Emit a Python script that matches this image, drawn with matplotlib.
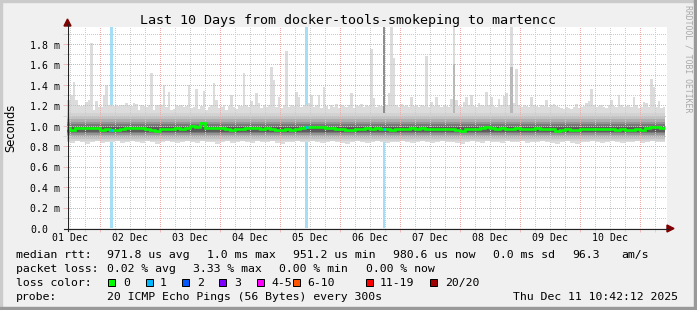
import numpy as np
import matplotlib.pyplot as plt
import matplotlib.transforms as mtransforms
from matplotlib.patches import Polygon, Rectangle
from matplotlib.lines import Line2D

W, H = 697, 310
MONO = 'DejaVu Sans Mono'

# time axis in hours counted from 01 Dec 00:00, graph spans 01 Dec 10:42 .. 11 Dec 10:42
x_start, x_end = 10.8, 250.8
first_hour = 10

# highest ping per 1h bin (ms)
rtt_max = [
    1.25, 1.25, 1.30, 1.43, 1.25, 1.20, 1.19, 1.20, 1.23, 1.25, 1.81, 1.15,
    1.24, 1.18, 1.18, 1.30, 1.40, 1.20, 1.20, 1.19, 1.20, 1.19, 1.20, 1.20,
    1.22, 1.20, 1.19, 1.22, 1.21, 1.15, 1.20, 1.19, 1.18, 1.20, 1.52, 1.15,
    1.20, 1.20, 1.20, 1.40, 1.18, 1.33, 1.15, 1.16, 1.20, 1.19, 1.20, 1.18,
    1.19, 1.40, 1.17, 1.18, 1.36, 1.16, 1.19, 1.34, 1.15, 1.18, 1.20, 1.42,
    1.25, 1.17, 1.18, 1.20, 1.15, 1.19, 1.30, 1.18, 1.16, 1.20, 1.19, 1.52,
    1.20, 1.18, 1.24, 1.20, 1.32, 1.22, 1.17, 1.20, 1.18, 1.20, 1.58, 1.45,
    1.18, 1.28, 1.17, 1.20, 1.73, 1.18, 1.20, 1.19, 1.33, 1.28, 1.18, 1.20,
    1.20, 1.22, 1.30, 1.18, 1.20, 1.30, 1.17, 1.38, 1.19, 1.16, 1.20, 1.18,
    1.21, 1.17, 1.20, 1.19, 1.18, 1.20, 1.32, 1.17, 1.20, 1.19, 1.21, 1.18,
    1.20, 1.19, 1.75, 1.27, 1.18, 1.20, 1.19, 1.97, 1.20, 1.32, 1.97, 1.66,
    1.20, 1.18, 1.21, 1.19, 1.20, 1.18, 1.28, 1.19, 1.20, 1.18, 1.20, 1.19,
    1.68, 1.18, 1.23, 1.19, 1.28, 1.20, 1.18, 1.20, 1.19, 1.18, 1.26, 1.97,
    1.25, 1.19, 1.18, 1.23, 1.28, 1.20, 1.30, 1.19, 1.18, 1.22, 1.20, 1.19,
    1.33, 1.20, 1.28, 1.19, 1.18, 1.26, 1.20, 1.29, 1.32, 1.20, 1.97, 1.22,
    1.56, 1.20, 1.18, 1.20, 1.19, 1.18, 1.28, 1.20, 1.19, 1.18, 1.20, 1.19,
    1.25, 1.18, 1.20, 1.21, 1.19, 1.18, 1.17, 1.16, 1.18, 1.17, 1.16, 1.18,
    1.21, 1.17, 1.18, 1.19, 1.22, 1.24, 1.36, 1.20, 1.18, 1.19, 1.20, 1.18,
    1.17, 1.20, 1.25, 1.19, 1.18, 1.30, 1.20, 1.18, 1.19, 1.20, 1.18, 1.28,
    1.20, 1.17, 1.18, 1.23, 1.22, 1.18, 1.46, 1.38, 1.18, 1.24, 1.17, 1.18,
]

# median rtt per 2h bin (ms)
rtt_median = [
    0.975, 0.960, 0.975, 0.975, 0.975, 0.980, 0.980, 0.960, 0.965, 0.955, 0.960, 0.965,
    0.975, 0.980, 0.975, 0.975, 0.970, 0.955, 0.950, 0.965, 0.965, 0.970, 0.975, 0.970,
    0.975, 1.000, 0.990, 1.030, 0.980, 0.975, 0.975, 0.975, 0.970, 0.960, 0.965, 0.970,
    0.980, 0.975, 0.975, 0.970, 0.975, 0.970, 0.955, 0.955, 0.965, 0.960, 0.965, 0.975,
    0.985, 0.990, 0.990, 0.985, 0.980, 0.975, 0.970, 0.970, 0.960, 0.960, 0.970, 0.965,
    0.975, 0.970, 0.975, 0.965, 0.965, 0.960, 0.965, 0.970, 0.970, 0.975, 0.970, 0.975,
    0.970, 0.965, 0.970, 0.965, 0.970, 0.965, 0.960, 0.950, 0.965, 0.965, 0.970, 0.975,
    0.990, 0.975, 0.970, 0.975, 0.970, 0.970, 0.975, 0.970, 0.965, 0.970, 0.975, 0.970,
    0.970, 0.965, 0.950, 0.960, 0.965, 0.955, 0.955, 0.965, 0.970, 0.970, 0.965, 0.970,
    0.970, 0.965, 0.960, 0.965, 0.960, 0.960, 0.965, 0.955, 0.975, 0.985, 0.985, 0.980,
]

# lowest ping per 2h bin (ms)
rtt_min = [
    0.84, 0.83, 0.85, 0.84, 0.82, 0.84, 0.85, 0.83, 0.84, 0.84, 0.85, 0.83,
    0.84, 0.85, 0.84, 0.83, 0.85, 0.84, 0.82, 0.84, 0.85, 0.84, 0.83, 0.84,
    0.85, 0.84, 0.83, 0.85, 0.84, 0.84, 0.82, 0.84, 0.85, 0.83, 0.84, 0.85,
    0.84, 0.83, 0.85, 0.84, 0.84, 0.85, 0.83, 0.82, 0.84, 0.84, 0.85, 0.84,
    0.84, 0.85, 0.84, 0.83, 0.84, 0.85, 0.84, 0.83, 0.82, 0.84, 0.85, 0.84,
    0.83, 0.84, 0.85, 0.84, 0.83, 0.84, 0.84, 0.85, 0.84, 0.83, 0.84, 0.85,
    0.84, 0.83, 0.84, 0.85, 0.84, 0.84, 0.83, 0.82, 0.84, 0.85, 0.84, 0.83,
    0.85, 0.84, 0.84, 0.83, 0.85, 0.84, 0.84, 0.85, 0.83, 0.84, 0.84, 0.85,
    0.84, 0.83, 0.82, 0.84, 0.85, 0.83, 0.82, 0.84, 0.84, 0.85, 0.84, 0.83,
    0.84, 0.85, 0.84, 0.83, 0.84, 0.84, 0.85, 0.83, 0.84, 0.85, 0.84, 0.84,
]

# inner smoke levels (roughly constant over the period)
band_lo = [0.855, 0.875, 0.895, 0.91, 0.925, 0.94]
band_hi = [1.13, 1.10, 1.07, 1.04, 1.015, 0.99]
band_colors = ['#d2d2d2', '#c2c2c2', '#aeaeae', '#959595', '#787878', '#5c5c5c']

# bins where several pings went high
dark_hours, dark_tops = [137], [1.97]
mid_hours, mid_tops = [165, 188], [1.60, 1.58]

# bins with 1/20 packet loss
loss_hours = [28, 106, 137]

day_labels = ['01 Dec', '02 Dec', '03 Dec', '04 Dec', '05 Dec',
              '06 Dec', '07 Dec', '08 Dec', '09 Dec', '10 Dec']
y_ticks = [0.0, 0.2, 0.4, 0.6, 0.8, 1.0, 1.2, 1.4, 1.6, 1.8]
y_labels = ['0.0', '0.2 m', '0.4 m', '0.6 m', '0.8 m', '1.0 m',
            '1.2 m', '1.4 m', '1.6 m', '1.8 m']

loss_names = ['0', '1', '2', '3', '4-5', '6-10', '11-19', '20/20']
loss_colors = ['#00ff00', '#00b8ff', '#0059ff', '#7e00ff',
               '#ff00ff', '#ff5500', '#ff0000', '#a10000']


def fx(px):
    return px / W


def fy(py):
    return 1 - py / H


fig = plt.figure(figsize=(W / 100, H / 100), dpi=100)
fig.patch.set_facecolor('#f0f0f0')

ax = fig.add_axes([fx(67), fy(228), 600 / W, 201 / H])
ax.set_facecolor('white')
ax.set_xlim(x_start, x_end)
ax.set_ylim(0, 201 / 102.2)

edges_1h = first_hour + np.arange(len(rtt_max) + 1)
edges_2h = first_hour + 2 * np.arange(len(rtt_median) + 1)

# loss markers sit behind the smoke
for h in loss_hours:
    ax.axvspan(h, h + 1, color='#a6def6', lw=0, zorder=0.5)

# outer smoke
ax.stairs(rtt_max, edges_1h, baseline=np.repeat(rtt_min, 2), fill=True,
          color='#dcdcdc', lw=0, zorder=1)
for h, top in zip(mid_hours, mid_tops):
    ax.fill_between([h, h + 1], 1.1, top, color='#b8b8b8', lw=0, zorder=1.1)
for h, top in zip(dark_hours, dark_tops):
    ax.fill_between([h, h + 1], 1.1, top, color='#8e8e8e', lw=0, zorder=1.1)
for lo, hi, c in zip(band_lo, band_hi, band_colors):
    ax.fill_between([edges_1h[0], edges_1h[-1]], lo, hi, color=c, lw=0, zorder=1.2)

# median line, blue where a ping was lost
ax.stairs(rtt_median, edges_2h, baseline=None, color='#00ff00', lw=1.9, zorder=3)
for h in loss_hours:
    m = rtt_median[(h - first_hour) // 2]
    ax.plot([h, h + 1], [m, m], color='#00b8ff', lw=1.9, solid_capstyle='butt', zorder=3.1)

# grid (dotted, drawn over the smoke like rrdtool does)
ax.set_xticks(np.arange(24, 250, 24))
ax.set_xticks([h for h in range(12, 251, 6) if h % 24], minor=True)
ax.set_yticks(np.arange(0.2, 1.81, 0.2))
ax.set_yticks(np.arange(0.1, 1.91, 0.2), minor=True)
ax.set_axisbelow(False)
ax.grid(which='major', color='#efaaaa', lw=0.72, linestyle=(0, (1, 2)), antialiased=False)
ax.grid(which='minor', color='#cccccc', lw=0.72, linestyle=(0, (1, 2)), antialiased=False)
ax.tick_params(which='major', length=3, width=0.72, color='#f2bcbc',
               labelleft=False, labelbottom=False)
ax.tick_params(which='minor', length=3, width=0.72, color='#d8d8d8')
for s in ax.spines.values():
    s.set_visible(False)

# tick labels
xt = mtransforms.blended_transform_factory(ax.transData, fig.transFigure)
for i, lab in enumerate(day_labels):
    ax.text(12 + 24 * i, fy(241), lab, transform=xt, ha='center', va='baseline',
            family=MONO, fontsize=7.1)
yt = mtransforms.blended_transform_factory(fig.transFigure, ax.transData) + \
    mtransforms.ScaledTranslation(0, -3.4 / 72, fig.dpi_scale_trans)
for v, lab in zip(y_ticks, y_labels):
    ax.text(fx(30), v, lab, transform=yt, ha='left', va='baseline',
            family=MONO, fontsize=7.1)

# axes with arrows
fig.add_artist(Line2D([fx(67.5), fx(67.5)], [fy(231), fy(24)], color='#222222', lw=0.8))
fig.add_artist(Line2D([fx(64), fx(668)], [fy(228.5), fy(228.5)], color='#222222', lw=0.8))
fig.add_artist(Polygon([(fx(67.5), fy(19)), (fx(64), fy(26)), (fx(71), fy(26))],
                       closed=True, color='#7f0000', transform=fig.transFigure))
fig.add_artist(Polygon([(fx(674), fy(228.5)), (fx(667), fy(225)), (fx(667), fy(232))],
                       closed=True, color='#7f0000', transform=fig.transFigure))

# titles
fig.text(fx(348), fy(24), 'Last 10 Days from docker-tools-smokeping to martencc',
         ha='center', va='baseline', family=MONO, fontsize=9.6)
fig.text(fx(11), fy(128), 'Seconds', rotation=90, ha='center', va='center',
         family='DejaVu Sans', fontsize=8.3)
fig.text(fx(688), fy(59), 'RRDTOOL / TOBI OETIKER', rotation=270, ha='center',
         va='center', family=MONO, fontsize=5.9, color='#a8a8a8')

# legend block
rows = [
    (258, [('median rtt:', 16), ('971.8 us avg', 107), ('1.0 ms max', 207),
           ('951.2 us min', 293), ('980.6 us now', 393), ('0.0 ms sd', 493),
           ('96.3', 572), ('am/s', 621)]),
    (272, [('packet loss:', 16), ('0.02 % avg', 107), ('3.33 % max', 193),
           ('0.00 % min', 279), ('0.00 % now', 366)]),
    (286, [('loss color:', 16)]),
    (300, [('probe:', 16), ('20 ICMP Echo Pings (56 Bytes) every 300s', 107),
           ('Thu Dec 11 10:42:12 2025', 513)]),
]
for base, items in rows:
    for txt, px in items:
        fig.text(fx(px), fy(base), txt, ha='left', va='baseline', family=MONO, fontsize=8.25)

box_x = [108, 146, 182, 219, 257, 293, 366, 430]
lab_x = [123, 160, 197, 234, 271, 307, 380, 445]
for name, c, bx, lx in zip(loss_names, loss_colors, box_x, lab_x):
    fig.add_artist(Rectangle((fx(bx), fy(285.5)), 7 / W, 7 / H, facecolor=c,
                             edgecolor='black', lw=0.72, transform=fig.transFigure))
    fig.text(fx(lx), fy(286), name, ha='left', va='baseline', family=MONO, fontsize=8.25)

# frame shading
fig.add_artist(Rectangle((0, 0), fx(2), 1, color='#cbcbcb', transform=fig.transFigure))
fig.add_artist(Rectangle((0, fy(2)), 1, 2 / H, color='#cbcbcb', transform=fig.transFigure))
fig.add_artist(Rectangle((fx(694), 0), 3 / W, 1, color='#999999', transform=fig.transFigure))
fig.add_artist(Rectangle((0, 0), 1, 3 / H, color='#999999', transform=fig.transFigure))

fig.savefig('out.png', dpi=100, facecolor=fig.get_facecolor())
